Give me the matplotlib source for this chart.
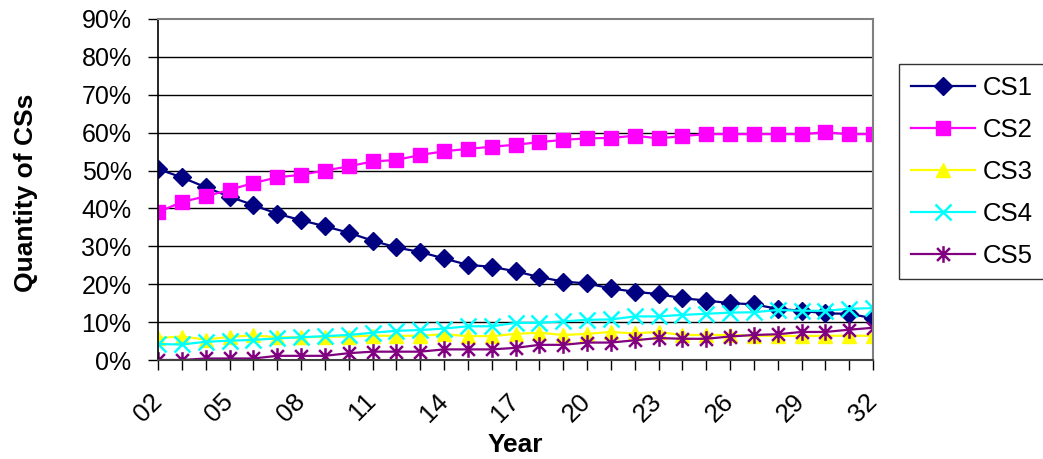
import numpy as np
import matplotlib.pyplot as plt
from matplotlib.path import Path

plt.rcParams['font.family'] = ['Liberation Sans', 'DejaVu Sans']

years = ['%02d' % y for y in range(2, 33)]

cs1 = [50.4, 48.2, 45.6, 43.1, 40.9, 38.6, 36.9, 35.3, 33.6, 31.5,
       29.7, 28.5, 26.8, 25.1, 24.6, 23.4, 21.9, 20.7, 20.2, 18.9,
       18.0, 17.4, 16.3, 15.7, 15.0, 14.7, 13.5, 13.0, 12.3, 12.2, 11.0]
cs2 = [39.0, 41.7, 43.2, 44.9, 46.7, 48.2, 48.9, 50.0, 51.1, 52.4,
       52.8, 54.1, 55.1, 55.7, 56.3, 56.8, 57.5, 58.1, 58.5, 58.6,
       59.2, 58.5, 59.1, 59.6, 59.6, 59.6, 59.6, 59.6, 60.1, 59.6, 59.6]
cs3 = [5.8, 6.2, 5.4, 6.1, 6.5, 6.0, 6.0, 6.1, 6.2, 6.4,
       6.4, 6.4, 6.8, 6.3, 6.3, 6.9, 7.2, 6.6, 6.9, 7.4,
       7.0, 7.4, 6.6, 6.6, 6.6, 6.4, 6.4, 6.3, 6.4, 6.4, 6.4]
cs4 = [4.2, 4.1, 4.8, 5.1, 5.3, 5.7, 6.0, 6.3, 6.6, 7.2,
       7.7, 7.9, 8.3, 8.9, 8.9, 9.8, 9.8, 10.2, 10.6, 10.7,
       11.5, 11.5, 11.9, 12.2, 12.5, 12.6, 13.2, 13.0, 13.0, 13.5, 13.7]
cs5 = [0.0, 0.0, 0.4, 0.4, 0.4, 1.1, 1.1, 1.1, 1.8, 2.2,
       2.2, 2.2, 2.8, 2.8, 2.8, 3.2, 4.0, 4.0, 4.6, 4.6,
       5.2, 5.8, 5.6, 5.6, 6.2, 6.6, 6.8, 7.4, 7.4, 8.0, 8.5]

labels = ['CS1', 'CS2', 'CS3', 'CS4', 'CS5']
colors = ['#000080', '#FF00FF', '#FFFF00', '#00FFFF', '#800080']

# asterisk marker: an x with a vertical bar through it
star = Path([(-1, -1), (1, 1), (-1, 1), (1, -1), (0, -1.3), (0, 1.3)],
            [Path.MOVETO, Path.LINETO, Path.MOVETO, Path.LINETO, Path.MOVETO, Path.LINETO])

fig = plt.figure(figsize=(10.43, 4.59), dpi=100)
ax = fig.add_axes([158/1043, 1-360/459, 715/1043, 341/459])

x = np.arange(len(years))
ax.plot(x, np.array(cs1)/100, color=colors[0], lw=1.6, marker='D', ms=9.5, label=labels[0])
ax.plot(x, np.array(cs2)/100, color=colors[1], lw=1.6, marker='s', ms=9.5, label=labels[1])
ax.plot(x, np.array(cs3)/100, color=colors[2], lw=1.6, marker='^', ms=10.5, label=labels[2])
ax.plot(x, np.array(cs4)/100, color=colors[3], lw=1.6, marker='x', ms=12, mew=1.8, label=labels[3])
ax.plot(x, np.array(cs5)/100, color=colors[4], lw=1.6, marker=star, ms=12, mew=1.8,
        fillstyle='none', label=labels[4])

ax.set_xlim(0, len(years)-1)
ax.set_ylim(0, 0.9)
ax.set_yticks(np.arange(0, 0.91, 0.1))
ax.set_yticklabels(['%d%%' % v for v in range(0, 91, 10)])
for v in np.arange(0.1, 0.85, 0.1):
    ax.axhline(v, color='black', lw=1, zorder=0)

ax.set_xticks(x)
ax.set_xticklabels([y if i % 3 == 0 else '' for i, y in enumerate(years)],
                   rotation=45, ha='right', va='center', rotation_mode='anchor')
ax.tick_params(axis='x', length=7, width=1, labelsize=18.5, pad=20)
ax.tick_params(axis='y', length=7, width=1, labelsize=18, pad=12)

for side in ['top', 'right']:
    ax.spines[side].set_color('#808080')
    ax.spines[side].set_linewidth(1.5)
ax.spines['left'].set_linewidth(1.2)
ax.spines['bottom'].set_linewidth(1.5)
ax.spines['bottom'].set_color('#404040')

ax.set_ylabel('Quantity of CSs', fontsize=19, fontweight='bold')
ax.yaxis.set_label_coords(-0.168, 0.49)
ax.set_xlabel('Year', fontsize=19, fontweight='bold')
ax.xaxis.set_label_coords(0.5, -0.215)

leg = fig.legend(loc='upper left', bbox_to_anchor=(899/1043, 1-64/459),
                 fontsize=18.5, frameon=True, fancybox=False, edgecolor='black',
                 handlelength=2.5, handletextpad=0.3, labelspacing=0.7,
                 borderpad=0.45, borderaxespad=0)
leg.get_frame().set_linewidth(1)

plt.savefig('out.png', dpi=100)
